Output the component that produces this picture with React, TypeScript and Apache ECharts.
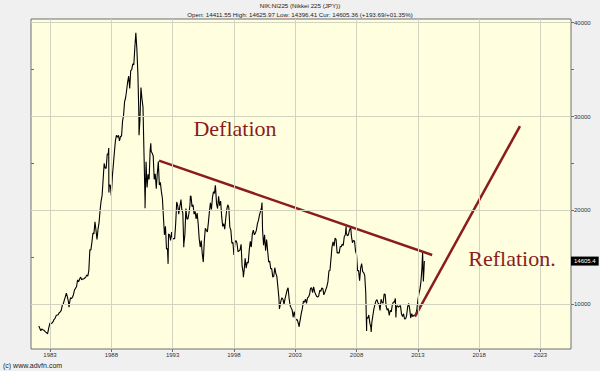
import React, { useEffect, useRef } from "react";
import * as echarts from "echarts";

// ---- data ----
const START_YEAR = 1982;
// Month-end closes of the Nikkei 225, Jan 1982 .. Jun 2013
const monthlyCloses: number[] = [
  // 1982
  7680, 7450, 7180, 7380, 7300, 7250, 7120, 7030, 6950, 6900, 7600, 8016,
  // 1983
  7950, 8000, 8150, 8400, 8500, 8800, 8850, 8900, 9100, 9200, 9350, 9894,
  // 1984
  10050, 10450, 10800, 11190, 10800, 10300, 10050, 10700, 10600, 10750, 11050, 11543,
  // 1985
  11700, 11900, 12600, 12400, 12700, 12900, 12600, 12700, 12700, 12800, 12900, 13113,
  // 1986
  13000, 13600, 15800, 15800, 16600, 17600, 17500, 18800, 17900, 16900, 18000, 18701,
  // 1987
  20000, 21000, 21600, 23300, 25000, 24500, 24500, 26000, 26000, 22700, 22700, 21564,
  // 1988
  23600, 24900, 26200, 27400, 28000, 27800, 28000, 27400, 27900, 27900, 29500, 30159,
  // 1989
  31600, 32000, 32800, 33700, 34300, 33000, 34900, 35000, 35600, 35500, 37300, 38916,
  // 1990
  37200, 34600, 29980, 29600, 33100, 31900, 31000, 25978, 20984, 25194, 22454, 23849,
  // 1991
  23300, 26400, 26300, 26100, 25800, 23300, 23900, 22300, 23900, 25200, 22700, 22984,
  // 1992
  22000, 21300, 19300, 17400, 18300, 15900, 15900, 17500, 17400, 16800, 17700, 16925,
  // 1993
  17000, 17000, 18600, 20900, 20500, 19600, 20400, 21000, 20100, 19700, 16400, 17417,
  // 1994
  20200, 19100, 19100, 19700, 20600, 21500, 20400, 20600, 19600, 19900, 19100, 19723,
  // 1995
  18600, 17000, 16100, 16800, 15400, 14500, 16700, 18100, 17900, 17700, 18700, 19868,
  // 1996
  20800, 20100, 21400, 22000, 21800, 22500, 20700, 20200, 21500, 20500, 21000, 19361,
  // 1997
  18300, 18600, 18000, 19150, 20100, 20600, 20300, 18200, 17900, 16500, 16600, 15259,
  // 1998
  16600, 16800, 16500, 15600, 15700, 15800, 16400, 14100, 13400, 13600, 14900, 13842,
  // 1999
  14500, 14400, 15800, 16700, 16100, 17500, 17900, 17400, 17600, 17900, 18600, 18934,
  // 2000
  19500, 19900, 20337, 17970, 16300, 17400, 15700, 16900, 15700, 14500, 14600, 13786,
  // 2001
  13800, 12900, 12999, 13900, 13300, 12970, 11860, 10710, 9774, 10366, 10697, 10543,
  // 2002
  9997, 10588, 11025, 11493, 11764, 10622, 9877, 9619, 9383, 8640, 9216, 8579,
  // 2003
  8340, 8363, 7973, 7831, 8425, 9083, 9563, 10344, 10219, 10560, 10100, 10677,
  // 2004
  10784, 11041, 11715, 11762, 11236, 11858, 11326, 11081, 10824, 10771, 10899, 11488,
  // 2005
  11388, 11740, 11668, 11008, 11276, 11584, 11899, 12413, 13574, 13606, 14872, 16111,
  // 2006
  16650, 16205, 17059, 16906, 15467, 15505, 15456, 16140, 16127, 16399, 16274, 17225,
  // 2007
  17383, 17604, 17287, 17400, 17875, 18138, 17248, 16569, 16785, 16737, 15680, 15307,
  // 2008
  13592, 13603, 12525, 13849, 14338, 13481, 13376, 13072, 11259, 8576, 8512, 8859,
  // 2009
  7994, 7568, 8109, 8828, 9522, 9958, 10356, 10492, 10133, 10034, 9345, 10546,
  // 2010
  10198, 10126, 11089, 11057, 9768, 9382, 9537, 8824, 9369, 9202, 9937, 10228,
  // 2011
  10237, 10624, 9755, 9849, 9693, 9816, 9833, 8955, 8700, 8988, 8434, 8455,
  // 2012
  8802, 9723, 10083, 9520, 8542, 9006, 8695, 8839, 8870, 8928, 9446, 10395,
  // 2013
  11138, 11559, 12397, 13860, 13775, 13677,
];

// Intra-month highs / lows [decimal year, value]
const extremes: [number, number][] = [
  [1982.8, 6850], [1984.55, 9700], [1987.79, 26646], [1987.8, 21910],
  [1990.26, 28002], [1990.75, 20222], [1991.22, 27146], [1992.63, 14309],
  [1993.68, 21148], [1993.91, 16078], [1994.45, 21552], [1995.5, 14485],
  [1996.48, 22666], [1998.77, 12879], [2000.29, 20833], [2001.71, 9504],
  [2003.32, 7607], [2007.15, 18300], [2007.52, 18261], [2008.82, 7162],
  [2009.19, 7054], [2011.21, 8605], [2013.39, 15627], [2013.45, 12445],
  [2013.53, 14605],
];

const deflationLine: [number, number][] = [[1991.89, 25300], [2014.17, 15250]];
const reflationLine: [number, number][] = [[2012.76, 8680], [2021.33, 28990]];

const yearTicks = [1983, 1988, 1993, 1998, 2003, 2008, 2013, 2018, 2023];
const priceTicks = [10000, 15000, 20000, 25000, 30000, 35000, 40000];
const priceLabels = [10000, 20000, 30000, 40000];
const lastPrice = 14605.4;

const titleLine = "NIK:NI225 (Nikkei 225 (JPY))";
const quoteLine = "Open: 14411.55 High: 14625.97 Low: 14396.41 Cur: 14605.36 (+193.69/+01.35%)";

const X_MIN = 1981.45;
const X_MAX = 2025.49;
const Y_MIN = 5240;
const Y_MAX = 40390;

const RED = "#8b1c1c";
const SANS = "Liberation Sans, Arial, sans-serif";
const SERIF = "Liberation Serif, Times New Roman, serif";

export default function App() {
  const ref = useRef<HTMLDivElement>(null);
  useEffect(() => {
    if (!ref.current) return;
    const chart = echarts.init(ref.current, undefined, { renderer: "svg" });

    const priceData: [number, number][] = monthlyCloses.map(
      (v, i) => [START_YEAR + (i + 1) / 12, v] as [number, number]
    );
    const all = priceData.concat(extremes).sort((a, b) => a[0] - b[0]);

    const gridMarks = [
      ...yearTicks.map((y) => ({ xAxis: y })),
      ...priceLabels.map((v) => ({ yAxis: v })),
    ];

    const option: any = {
      animation: false,
      backgroundColor: "#f0f0f0",
      grid: {
        left: 31,
        right: 29,
        top: 19,
        bottom: 22,
        show: true,
        backgroundColor: "#ffffe0",
        borderColor: "#6e6e6e",
        borderWidth: 1,
      },
      xAxis: [
        {
          type: "value",
          min: X_MIN,
          max: X_MAX,
          position: "bottom",
          axisLine: { show: false },
          splitLine: { show: false },
          axisTick: {
            show: true,
            customValues: yearTicks,
            length: 3,
            lineStyle: { color: "#6e6e6e" },
          },
          axisLabel: {
            customValues: yearTicks,
            formatter: (v: number) => String(Math.round(v)),
            fontSize: 6,
            color: "#333",
            margin: 3,
            fontFamily: SANS,
          },
        },
        {
          type: "value",
          min: X_MIN,
          max: X_MAX,
          position: "top",
          axisLine: { show: false },
          splitLine: { show: false },
          axisTick: {
            show: true,
            inside: true,
            customValues: yearTicks,
            length: 3,
            lineStyle: { color: "#6e6e6e" },
          },
          axisLabel: { show: false },
        },
      ],
      yAxis: [
        {
          type: "value",
          min: Y_MIN,
          max: Y_MAX,
          position: "right",
          axisLine: { show: false },
          splitLine: { show: false },
          axisTick: {
            show: true,
            customValues: priceTicks,
            length: 3,
            lineStyle: { color: "#6e6e6e" },
          },
          axisLabel: {
            customValues: priceLabels,
            formatter: (v: number) => String(Math.round(v)),
            fontSize: 6,
            color: "#333",
            margin: 3,
            fontFamily: SANS,
          },
        },
        {
          type: "value",
          min: Y_MIN,
          max: Y_MAX,
          position: "left",
          axisLine: { show: false },
          splitLine: { show: false },
          axisTick: {
            show: true,
            inside: true,
            customValues: priceTicks,
            length: 3,
            lineStyle: { color: "#6e6e6e" },
          },
          axisLabel: { show: false },
        },
      ],
      series: [
        {
          type: "line",
          z: 1,
          silent: true,
          data: [[X_MIN, Y_MIN]],
          showSymbol: false,
          lineStyle: { opacity: 0 },
          markLine: {
            silent: true,
            symbol: ["none", "none"],
            label: { show: false },
            lineStyle: { color: "#d2d4c0", type: "solid", width: 1 },
            data: gridMarks,
          },
        },
        {
          type: "line",
          z: 3,
          clip: false,
          data: all,
          showSymbol: false,
          symbol: "none",
          lineStyle: { color: "#000", width: 1.1 },
          markLine: {
            silent: true,
            symbol: ["none", "none"],
            lineStyle: { color: "rgba(0,0,0,0)", width: 0 },
            label: {
              show: true,
              position: "end",
              formatter: String(lastPrice),
              backgroundColor: "#000",
              color: "#fff",
              fontSize: 6,
              fontFamily: SANS,
              padding: [2, 3, 1, 3],
              distance: 0,
              opacity: 1,
            },
            data: [{ yAxis: lastPrice }],
          },
        },
        {
          type: "line",
          z: 4,
          data: deflationLine,
          showSymbol: false,
          symbol: "none",
          lineStyle: { color: RED, width: 2.5 },
        },
        {
          type: "line",
          z: 4,
          data: reflationLine,
          showSymbol: false,
          symbol: "none",
          lineStyle: { color: RED, width: 2.5 },
        },
      ],
      graphic: [
        {
          type: "text",
          x: 300,
          y: 5,
          style: {
            text: titleLine,
            fill: "#222",
            font: `6.2px ${SANS}`,
            textAlign: "center",
            textVerticalAlign: "middle",
          },
        },
        {
          type: "text",
          x: 300,
          y: 14,
          style: {
            text: quoteLine,
            fill: "#222",
            font: `6.2px ${SANS}`,
            textAlign: "center",
            textVerticalAlign: "middle",
          },
        },
        {
          type: "text",
          x: 3,
          y: 365,
          style: {
            text: "(c) www.advfn.com",
            fill: "#222",
            font: `7px ${SANS}`,
            textAlign: "left",
            textVerticalAlign: "middle",
          },
        },
        {
          type: "text",
          x: 235,
          y: 128,
          z: 10,
          style: {
            text: "Deflation",
            fill: RED,
            font: `22px ${SERIF}`,
            textAlign: "center",
            textVerticalAlign: "middle",
          },
        },
        {
          type: "text",
          x: 512,
          y: 258,
          z: 10,
          style: {
            text: "Reflation.",
            fill: RED,
            font: `22px ${SERIF}`,
            textAlign: "center",
            textVerticalAlign: "middle",
          },
        },
      ],
    };
    chart.setOption(option);
    return () => chart.dispose();
  }, []);

  return (
    <div
      ref={ref}
      style={{ position: "fixed", left: 0, top: 0, width: 600, height: 371 }}
    />
  );
}
